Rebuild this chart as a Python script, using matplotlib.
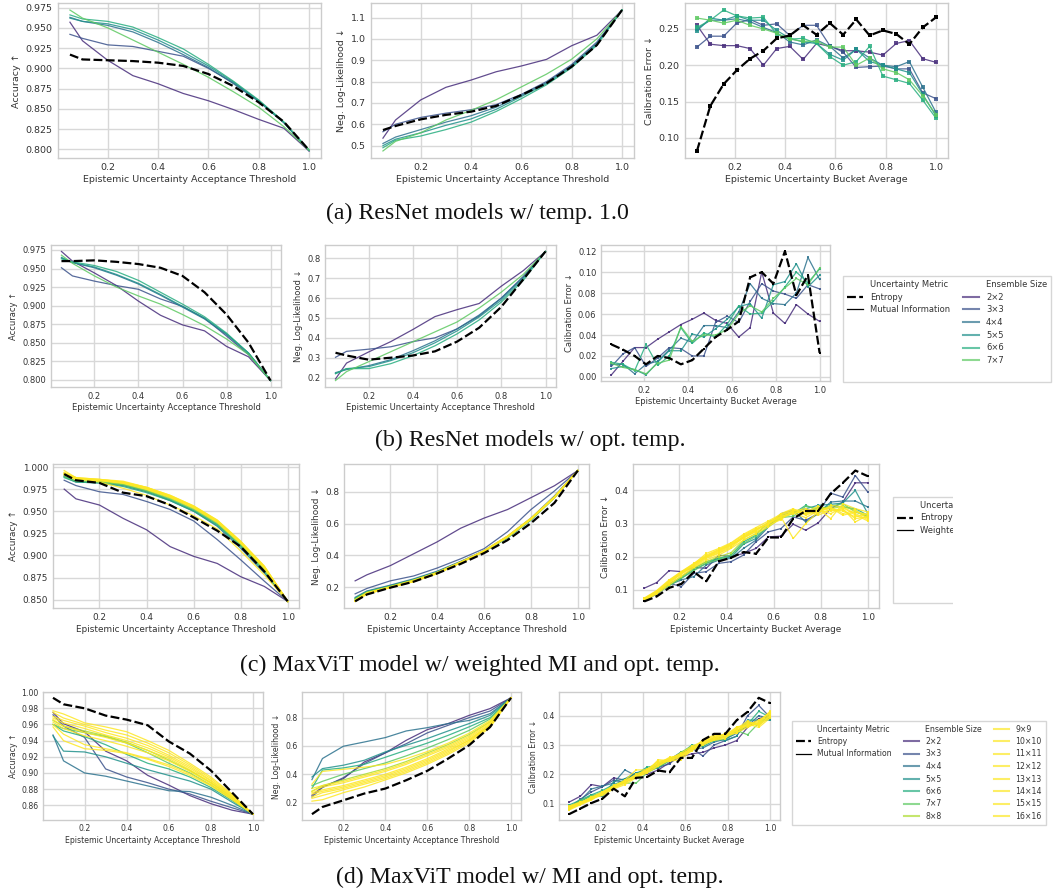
import matplotlib
matplotlib.use('Agg')
import matplotlib.pyplot as plt
from matplotlib import colormaps
from matplotlib.lines import Line2D
from matplotlib.patches import Rectangle
from matplotlib.ticker import MultipleLocator

W, H = 1053, 890

# acceptance thresholds (acc / nll curves) and bucket centres (calibration)
thresholds = [0.05, 0.1, 0.2, 0.3, 0.4, 0.5, 0.6, 0.7, 0.8, 0.9, 1.0]
buckets = [0.050, 0.103, 0.156, 0.208, 0.261, 0.314, 0.367, 0.419, 0.472, 0.525,
           0.578, 0.631, 0.683, 0.736, 0.789, 0.842, 0.894, 0.947, 1.000]

resnet_sizes = [2, 3, 4, 5, 6, 7]
maxvit_sizes = list(range(2, 17))

# ---- (a) ResNet, temperature 1.0
a_acc_ent = [0.917, 0.911, 0.910, 0.909, 0.907, 0.903, 0.893, 0.878, 0.858, 0.834, 0.799]
a_acc_mi = [
    [0.957, 0.934, 0.910, 0.891, 0.881, 0.869, 0.860, 0.849, 0.837, 0.826, 0.798],
    [0.942, 0.937, 0.929, 0.927, 0.921, 0.915, 0.900, 0.882, 0.860, 0.833, 0.798],
    [0.963, 0.958, 0.953, 0.945, 0.932, 0.917, 0.901, 0.881, 0.859, 0.833, 0.799],
    [0.962, 0.958, 0.955, 0.948, 0.935, 0.920, 0.903, 0.883, 0.860, 0.833, 0.799],
    [0.966, 0.961, 0.958, 0.951, 0.938, 0.924, 0.905, 0.884, 0.861, 0.834, 0.799],
    [0.972, 0.962, 0.950, 0.935, 0.920, 0.905, 0.889, 0.871, 0.852, 0.828, 0.799],
]
a_nll_ent = [0.573, 0.592, 0.623, 0.644, 0.659, 0.686, 0.737, 0.792, 0.870, 0.971, 1.135]
a_nll_mi = [
    [0.535, 0.620, 0.714, 0.773, 0.807, 0.846, 0.873, 0.904, 0.968, 1.017, 1.135],
    [0.565, 0.600, 0.632, 0.652, 0.668, 0.692, 0.740, 0.800, 0.880, 0.985, 1.135],
    [0.510, 0.540, 0.575, 0.610, 0.640, 0.680, 0.735, 0.795, 0.875, 0.980, 1.135],
    [0.500, 0.530, 0.560, 0.595, 0.625, 0.670, 0.730, 0.790, 0.870, 0.975, 1.135],
    [0.490, 0.525, 0.545, 0.575, 0.610, 0.660, 0.720, 0.785, 0.865, 0.970, 1.135],
    [0.475, 0.520, 0.560, 0.620, 0.665, 0.715, 0.775, 0.835, 0.905, 1.000, 1.135],
]
a_cal_ent = [0.082, 0.144, 0.174, 0.193, 0.209, 0.220, 0.237, 0.241, 0.255, 0.242,
             0.258, 0.242, 0.263, 0.241, 0.248, 0.243, 0.229, 0.252, 0.266]
a_cal_mi = [
    [0.255, 0.229, 0.227, 0.227, 0.223, 0.200, 0.223, 0.226, 0.208, 0.230, 0.226, 0.220, 0.220, 0.218, 0.214, 0.230, 0.234, 0.209, 0.204],
    [0.225, 0.240, 0.240, 0.258, 0.263, 0.255, 0.257, 0.241, 0.255, 0.255, 0.227, 0.218, 0.197, 0.198, 0.199, 0.195, 0.195, 0.162, 0.154],
    [0.250, 0.262, 0.262, 0.264, 0.260, 0.252, 0.245, 0.232, 0.228, 0.235, 0.226, 0.210, 0.222, 0.210, 0.200, 0.198, 0.205, 0.170, 0.135],
    [0.247, 0.265, 0.262, 0.268, 0.262, 0.262, 0.248, 0.237, 0.232, 0.230, 0.215, 0.207, 0.222, 0.205, 0.200, 0.195, 0.190, 0.160, 0.130],
    [0.252, 0.262, 0.276, 0.268, 0.265, 0.266, 0.243, 0.236, 0.237, 0.230, 0.212, 0.200, 0.205, 0.226, 0.185, 0.180, 0.175, 0.152, 0.127],
    [0.265, 0.262, 0.258, 0.262, 0.255, 0.250, 0.244, 0.236, 0.233, 0.233, 0.225, 0.225, 0.200, 0.210, 0.195, 0.190, 0.180, 0.158, 0.132],
]

# ---- (b) ResNet, optimal temperature
b_acc_ent = [0.960, 0.960, 0.961, 0.959, 0.956, 0.951, 0.940, 0.918, 0.888, 0.850, 0.799]
b_acc_mi = [
    [0.973, 0.960, 0.944, 0.927, 0.906, 0.887, 0.874, 0.866, 0.845, 0.831, 0.799],
    [0.951, 0.940, 0.933, 0.927, 0.922, 0.909, 0.899, 0.883, 0.859, 0.834, 0.799],
    [0.964, 0.958, 0.951, 0.941, 0.929, 0.914, 0.898, 0.882, 0.861, 0.836, 0.799],
    [0.965, 0.958, 0.952, 0.942, 0.930, 0.915, 0.899, 0.883, 0.862, 0.836, 0.799],
    [0.963, 0.959, 0.954, 0.946, 0.934, 0.918, 0.902, 0.885, 0.863, 0.836, 0.799],
    [0.968, 0.957, 0.940, 0.925, 0.913, 0.902, 0.888, 0.873, 0.855, 0.834, 0.799],
]
b_nll_ent = [0.325, 0.311, 0.290, 0.300, 0.311, 0.332, 0.381, 0.451, 0.556, 0.695, 0.835]
b_nll_mi = [
    [0.193, 0.273, 0.329, 0.381, 0.442, 0.507, 0.542, 0.573, 0.660, 0.739, 0.835],
    [0.302, 0.332, 0.343, 0.355, 0.381, 0.400, 0.445, 0.510, 0.600, 0.710, 0.835],
    [0.225, 0.240, 0.260, 0.290, 0.335, 0.385, 0.445, 0.515, 0.600, 0.705, 0.835],
    [0.220, 0.245, 0.255, 0.285, 0.325, 0.375, 0.435, 0.505, 0.590, 0.700, 0.835],
    [0.220, 0.245, 0.245, 0.270, 0.310, 0.360, 0.420, 0.490, 0.580, 0.690, 0.835],
    [0.185, 0.230, 0.280, 0.330, 0.380, 0.430, 0.480, 0.550, 0.630, 0.720, 0.835],
]
b_cal_ent = [0.031, 0.026, 0.020, 0.012, 0.020, 0.018, 0.012, 0.016, 0.027, 0.038,
             0.045, 0.053, 0.095, 0.100, 0.089, 0.120, 0.078, 0.097, 0.023]
b_cal_mi = [
    [0.002, 0.015, 0.028, 0.028, 0.036, 0.043, 0.050, 0.055, 0.061, 0.054, 0.051, 0.038, 0.047, 0.100, 0.061, 0.051, 0.069, 0.060, 0.053],
    [0.010, 0.022, 0.028, 0.010, 0.018, 0.028, 0.027, 0.020, 0.020, 0.052, 0.058, 0.052, 0.072, 0.089, 0.082, 0.079, 0.075, 0.088, 0.084],
    [0.012, 0.012, 0.003, 0.012, 0.015, 0.026, 0.037, 0.033, 0.049, 0.049, 0.047, 0.062, 0.089, 0.075, 0.070, 0.069, 0.080, 0.114, 0.093],
    [0.008, 0.010, 0.007, 0.002, 0.014, 0.025, 0.025, 0.041, 0.038, 0.046, 0.055, 0.067, 0.070, 0.056, 0.088, 0.091, 0.108, 0.086, 0.097],
    [0.014, 0.012, 0.006, 0.031, 0.011, 0.020, 0.047, 0.032, 0.042, 0.038, 0.050, 0.068, 0.060, 0.061, 0.072, 0.086, 0.100, 0.090, 0.103],
    [0.013, 0.009, 0.007, 0.003, 0.013, 0.016, 0.048, 0.034, 0.040, 0.040, 0.045, 0.060, 0.068, 0.062, 0.075, 0.085, 0.094, 0.088, 0.104],
]

# ---- (c) MaxViT, weighted MI, optimal temperature
c_acc_ent = [0.992, 0.985, 0.982, 0.971, 0.967, 0.957, 0.943, 0.928, 0.910, 0.882, 0.848]
c_acc_mi = [
    [0.975, 0.964, 0.957, 0.942, 0.929, 0.910, 0.899, 0.891, 0.876, 0.865, 0.848],
    [0.985, 0.979, 0.972, 0.969, 0.961, 0.952, 0.939, 0.918, 0.895, 0.871, 0.848],
    [0.989, 0.983, 0.982, 0.979, 0.972, 0.962, 0.950, 0.933, 0.908, 0.880, 0.848],
    [0.990, 0.984, 0.983, 0.980, 0.973, 0.963, 0.951, 0.935, 0.911, 0.882, 0.848],
    [0.988, 0.983, 0.982, 0.978, 0.971, 0.962, 0.950, 0.934, 0.910, 0.882, 0.848],
    [0.989, 0.984, 0.983, 0.980, 0.973, 0.964, 0.952, 0.936, 0.912, 0.884, 0.848],
    [0.991, 0.986, 0.984, 0.981, 0.974, 0.965, 0.953, 0.937, 0.913, 0.885, 0.848],
    [0.996, 0.988, 0.983, 0.976, 0.968, 0.957, 0.945, 0.930, 0.905, 0.878, 0.848],
    [0.992, 0.987, 0.985, 0.982, 0.975, 0.966, 0.954, 0.938, 0.914, 0.886, 0.848],
    [0.993, 0.987, 0.985, 0.982, 0.976, 0.967, 0.955, 0.939, 0.915, 0.887, 0.848],
    [0.992, 0.986, 0.985, 0.983, 0.976, 0.966, 0.955, 0.938, 0.914, 0.886, 0.848],
    [0.993, 0.988, 0.986, 0.983, 0.977, 0.968, 0.956, 0.940, 0.916, 0.888, 0.848],
    [0.991, 0.986, 0.985, 0.982, 0.975, 0.966, 0.954, 0.938, 0.914, 0.886, 0.848],
    [0.994, 0.988, 0.986, 0.984, 0.977, 0.968, 0.956, 0.940, 0.916, 0.888, 0.848],
    [0.993, 0.987, 0.986, 0.983, 0.977, 0.967, 0.955, 0.939, 0.915, 0.887, 0.848],
]
c_nll_ent = [0.110, 0.153, 0.196, 0.234, 0.286, 0.346, 0.414, 0.496, 0.603, 0.731, 0.935]
c_nll_mi = [
    [0.239, 0.277, 0.335, 0.410, 0.485, 0.571, 0.635, 0.689, 0.764, 0.839, 0.935],
    [0.157, 0.191, 0.239, 0.270, 0.320, 0.378, 0.442, 0.549, 0.689, 0.806, 0.935],
    [0.135, 0.175, 0.212, 0.252, 0.300, 0.362, 0.430, 0.520, 0.635, 0.775, 0.935],
    [0.130, 0.172, 0.208, 0.248, 0.296, 0.358, 0.425, 0.512, 0.625, 0.765, 0.935],
    [0.128, 0.170, 0.205, 0.245, 0.293, 0.356, 0.423, 0.510, 0.622, 0.762, 0.935],
    [0.125, 0.168, 0.204, 0.244, 0.292, 0.356, 0.424, 0.512, 0.625, 0.764, 0.935],
    [0.122, 0.166, 0.203, 0.244, 0.292, 0.357, 0.426, 0.515, 0.628, 0.766, 0.935],
    [0.118, 0.163, 0.202, 0.243, 0.292, 0.358, 0.430, 0.522, 0.635, 0.770, 0.935],
    [0.115, 0.162, 0.200, 0.240, 0.290, 0.356, 0.428, 0.520, 0.632, 0.768, 0.935],
    [0.112, 0.160, 0.199, 0.238, 0.288, 0.355, 0.427, 0.518, 0.630, 0.766, 0.935],
    [0.110, 0.158, 0.198, 0.236, 0.286, 0.354, 0.426, 0.517, 0.629, 0.765, 0.935],
    [0.113, 0.160, 0.199, 0.237, 0.287, 0.355, 0.428, 0.520, 0.632, 0.767, 0.935],
    [0.110, 0.157, 0.197, 0.235, 0.285, 0.353, 0.425, 0.516, 0.628, 0.764, 0.935],
    [0.112, 0.159, 0.198, 0.236, 0.286, 0.354, 0.427, 0.519, 0.631, 0.766, 0.935],
    [0.109, 0.156, 0.196, 0.234, 0.284, 0.352, 0.424, 0.515, 0.627, 0.763, 0.935],
]
c_cal_ent = [0.065, 0.080, 0.106, 0.118, 0.154, 0.126, 0.186, 0.197, 0.214, 0.209,
             0.258, 0.258, 0.315, 0.338, 0.338, 0.390, 0.423, 0.460, 0.443]
c_cal_mi = [
    [0.105, 0.122, 0.158, 0.155, 0.168, 0.165, 0.205, 0.200, 0.210, 0.225, 0.260, 0.262, 0.298, 0.280, 0.302, 0.345, 0.365, 0.423, 0.423],
    [0.075, 0.085, 0.120, 0.110, 0.150, 0.155, 0.180, 0.185, 0.205, 0.245, 0.275, 0.285, 0.320, 0.310, 0.330, 0.392, 0.380, 0.445, 0.395],
    [0.070, 0.095, 0.115, 0.130, 0.140, 0.175, 0.190, 0.195, 0.225, 0.250, 0.290, 0.330, 0.340, 0.305, 0.330, 0.365, 0.368, 0.368, 0.350],
    [0.070, 0.092, 0.118, 0.135, 0.160, 0.180, 0.195, 0.198, 0.238, 0.255, 0.295, 0.325, 0.335, 0.345, 0.355, 0.358, 0.362, 0.400, 0.330],
    [0.072, 0.090, 0.115, 0.140, 0.165, 0.185, 0.195, 0.205, 0.245, 0.265, 0.305, 0.320, 0.330, 0.355, 0.340, 0.355, 0.350, 0.345, 0.325],
    [0.068, 0.088, 0.112, 0.135, 0.158, 0.180, 0.192, 0.205, 0.240, 0.262, 0.290, 0.318, 0.322, 0.352, 0.345, 0.352, 0.360, 0.335, 0.322],
    [0.070, 0.092, 0.118, 0.140, 0.165, 0.185, 0.200, 0.212, 0.250, 0.270, 0.300, 0.315, 0.335, 0.330, 0.350, 0.345, 0.352, 0.340, 0.318],
    [0.072, 0.095, 0.125, 0.150, 0.178, 0.200, 0.215, 0.235, 0.255, 0.278, 0.305, 0.320, 0.255, 0.300, 0.335, 0.340, 0.345, 0.305, 0.325],
    [0.075, 0.098, 0.130, 0.155, 0.180, 0.205, 0.222, 0.240, 0.265, 0.285, 0.300, 0.330, 0.345, 0.325, 0.340, 0.350, 0.330, 0.340, 0.315],
    [0.070, 0.090, 0.120, 0.148, 0.170, 0.195, 0.210, 0.228, 0.258, 0.275, 0.295, 0.312, 0.340, 0.330, 0.345, 0.315, 0.360, 0.345, 0.335],
    [0.066, 0.088, 0.115, 0.142, 0.168, 0.190, 0.205, 0.225, 0.250, 0.270, 0.290, 0.318, 0.330, 0.340, 0.325, 0.342, 0.338, 0.320, 0.330],
    [0.068, 0.092, 0.122, 0.150, 0.172, 0.198, 0.212, 0.232, 0.262, 0.282, 0.300, 0.325, 0.338, 0.345, 0.330, 0.355, 0.350, 0.330, 0.312],
    [0.072, 0.094, 0.126, 0.152, 0.175, 0.202, 0.220, 0.238, 0.258, 0.280, 0.302, 0.322, 0.332, 0.318, 0.338, 0.348, 0.325, 0.335, 0.328],
    [0.074, 0.096, 0.128, 0.155, 0.178, 0.210, 0.225, 0.242, 0.268, 0.288, 0.308, 0.328, 0.342, 0.335, 0.352, 0.338, 0.342, 0.315, 0.320],
    [0.070, 0.093, 0.124, 0.150, 0.176, 0.200, 0.218, 0.236, 0.260, 0.282, 0.298, 0.320, 0.336, 0.328, 0.342, 0.330, 0.348, 0.326, 0.308],
]

# ---- (d) MaxViT, MI, optimal temperature
d_acc_ent = [0.993, 0.985, 0.980, 0.971, 0.966, 0.959, 0.939, 0.924, 0.903, 0.876, 0.849]
d_acc_mi = [
    [0.975, 0.961, 0.951, 0.927, 0.915, 0.897, 0.885, 0.872, 0.862, 0.854, 0.849],
    [0.972, 0.958, 0.944, 0.905, 0.895, 0.888, 0.880, 0.874, 0.865, 0.857, 0.849],
    [0.947, 0.915, 0.900, 0.896, 0.890, 0.884, 0.878, 0.877, 0.870, 0.860, 0.849],
    [0.946, 0.927, 0.926, 0.920, 0.912, 0.904, 0.897, 0.890, 0.880, 0.864, 0.849],
    [0.960, 0.952, 0.945, 0.935, 0.923, 0.912, 0.905, 0.895, 0.882, 0.866, 0.849],
    [0.960, 0.955, 0.950, 0.945, 0.937, 0.925, 0.912, 0.900, 0.885, 0.868, 0.849],
    [0.965, 0.958, 0.952, 0.946, 0.938, 0.928, 0.916, 0.903, 0.888, 0.870, 0.849],
    [0.977, 0.973, 0.962, 0.957, 0.951, 0.940, 0.928, 0.912, 0.895, 0.874, 0.849],
    [0.975, 0.968, 0.960, 0.953, 0.947, 0.937, 0.925, 0.910, 0.893, 0.873, 0.849],
    [0.970, 0.965, 0.958, 0.950, 0.943, 0.934, 0.922, 0.908, 0.891, 0.872, 0.849],
    [0.968, 0.962, 0.955, 0.947, 0.940, 0.931, 0.920, 0.906, 0.890, 0.871, 0.849],
    [0.966, 0.958, 0.950, 0.944, 0.937, 0.928, 0.918, 0.904, 0.888, 0.870, 0.849],
    [0.963, 0.955, 0.946, 0.940, 0.933, 0.925, 0.915, 0.902, 0.887, 0.869, 0.849],
    [0.960, 0.948, 0.935, 0.930, 0.925, 0.918, 0.910, 0.899, 0.885, 0.868, 0.849],
    [0.957, 0.940, 0.930, 0.928, 0.924, 0.917, 0.908, 0.897, 0.884, 0.867, 0.849],
]
d_nll_ent = [0.118, 0.169, 0.216, 0.264, 0.299, 0.358, 0.424, 0.511, 0.605, 0.734, 0.940]
d_nll_mi = [
    [0.252, 0.311, 0.369, 0.487, 0.551, 0.640, 0.715, 0.758, 0.816, 0.864, 0.940],
    [0.240, 0.306, 0.376, 0.475, 0.551, 0.616, 0.692, 0.746, 0.800, 0.847, 0.940],
    [0.362, 0.511, 0.598, 0.628, 0.659, 0.706, 0.729, 0.758, 0.780, 0.828, 0.940],
    [0.381, 0.440, 0.464, 0.499, 0.558, 0.605, 0.652, 0.706, 0.758, 0.816, 0.940],
    [0.300, 0.430, 0.445, 0.470, 0.520, 0.570, 0.620, 0.675, 0.735, 0.800, 0.940],
    [0.320, 0.350, 0.400, 0.440, 0.480, 0.530, 0.585, 0.645, 0.710, 0.790, 0.940],
    [0.280, 0.320, 0.360, 0.400, 0.440, 0.490, 0.550, 0.610, 0.680, 0.770, 0.940],
    [0.330, 0.420, 0.435, 0.450, 0.470, 0.510, 0.560, 0.620, 0.690, 0.780, 0.940],
    [0.300, 0.320, 0.350, 0.390, 0.430, 0.480, 0.540, 0.600, 0.670, 0.770, 0.940],
    [0.280, 0.310, 0.340, 0.380, 0.420, 0.470, 0.530, 0.590, 0.660, 0.760, 0.940],
    [0.270, 0.290, 0.320, 0.360, 0.400, 0.450, 0.510, 0.580, 0.650, 0.750, 0.940],
    [0.260, 0.280, 0.310, 0.350, 0.390, 0.440, 0.500, 0.570, 0.640, 0.750, 0.940],
    [0.240, 0.270, 0.300, 0.340, 0.380, 0.430, 0.490, 0.560, 0.640, 0.740, 0.940],
    [0.230, 0.250, 0.290, 0.330, 0.370, 0.420, 0.480, 0.550, 0.630, 0.740, 0.940],
    [0.210, 0.220, 0.270, 0.310, 0.360, 0.410, 0.470, 0.540, 0.620, 0.730, 0.940],
]
d_cal_ent = [0.064, 0.083, 0.102, 0.117, 0.151, 0.125, 0.188, 0.191, 0.213, 0.207,
             0.256, 0.256, 0.317, 0.338, 0.338, 0.384, 0.413, 0.461, 0.443]
d_cal_mi = [
    [0.105, 0.125, 0.165, 0.158, 0.188, 0.180, 0.205, 0.200, 0.215, 0.240, 0.260, 0.270, 0.275, 0.290, 0.300, 0.315, 0.360, 0.390, 0.400],
    [0.085, 0.115, 0.140, 0.158, 0.180, 0.172, 0.195, 0.210, 0.225, 0.235, 0.270, 0.290, 0.262, 0.300, 0.315, 0.330, 0.400, 0.435, 0.395],
    [0.080, 0.110, 0.150, 0.160, 0.170, 0.215, 0.195, 0.220, 0.220, 0.250, 0.275, 0.285, 0.290, 0.310, 0.320, 0.340, 0.365, 0.400, 0.390],
    [0.090, 0.105, 0.130, 0.125, 0.175, 0.185, 0.205, 0.215, 0.235, 0.250, 0.265, 0.290, 0.300, 0.325, 0.315, 0.330, 0.385, 0.385, 0.385],
    [0.095, 0.112, 0.130, 0.145, 0.165, 0.180, 0.200, 0.225, 0.230, 0.250, 0.270, 0.300, 0.295, 0.315, 0.320, 0.345, 0.370, 0.415, 0.395],
    [0.088, 0.110, 0.125, 0.140, 0.160, 0.170, 0.170, 0.205, 0.225, 0.245, 0.275, 0.295, 0.300, 0.320, 0.330, 0.350, 0.335, 0.375, 0.400],
    [0.085, 0.100, 0.120, 0.135, 0.155, 0.175, 0.190, 0.210, 0.232, 0.248, 0.270, 0.288, 0.305, 0.318, 0.328, 0.345, 0.375, 0.370, 0.395],
    [0.092, 0.105, 0.118, 0.132, 0.158, 0.180, 0.215, 0.215, 0.245, 0.250, 0.262, 0.280, 0.310, 0.325, 0.330, 0.350, 0.370, 0.380, 0.410],
    [0.080, 0.098, 0.115, 0.138, 0.160, 0.176, 0.195, 0.212, 0.238, 0.255, 0.268, 0.285, 0.315, 0.330, 0.335, 0.360, 0.365, 0.372, 0.405],
    [0.078, 0.096, 0.112, 0.135, 0.155, 0.172, 0.192, 0.208, 0.230, 0.248, 0.262, 0.292, 0.308, 0.322, 0.325, 0.355, 0.382, 0.365, 0.400],
    [0.084, 0.100, 0.122, 0.140, 0.162, 0.178, 0.198, 0.218, 0.242, 0.245, 0.250, 0.282, 0.300, 0.318, 0.328, 0.342, 0.360, 0.378, 0.415],
    [0.090, 0.104, 0.118, 0.128, 0.150, 0.165, 0.188, 0.205, 0.228, 0.252, 0.272, 0.296, 0.312, 0.326, 0.338, 0.340, 0.372, 0.360, 0.392],
    [0.086, 0.102, 0.120, 0.136, 0.156, 0.174, 0.200, 0.214, 0.236, 0.258, 0.264, 0.288, 0.304, 0.316, 0.322, 0.362, 0.368, 0.385, 0.408],
    [0.082, 0.099, 0.116, 0.132, 0.152, 0.170, 0.194, 0.210, 0.250, 0.246, 0.258, 0.284, 0.318, 0.334, 0.332, 0.348, 0.378, 0.368, 0.398],
    [0.088, 0.103, 0.121, 0.138, 0.158, 0.176, 0.190, 0.216, 0.234, 0.254, 0.266, 0.290, 0.306, 0.320, 0.340, 0.352, 0.364, 0.375, 0.412],
]

plt.rcParams.update({
    'font.family': 'DejaVu Sans',
    'axes.edgecolor': '#cccccc',
    'axes.linewidth': 1.0,
    'axes.grid': True,
    'axes.axisbelow': True,
    'grid.color': '#d8d8d8',
    'grid.linewidth': 1.0,
    'axes.labelcolor': '#333333',
    'xtick.color': '#333333',
    'ytick.color': '#333333',
    'xtick.major.size': 0,
    'ytick.major.size': 0,
})

cmap = colormaps['viridis']


def col(n):
    return cmap(min((n - 1) / 8, 1.0))


def rect(l, t, r, b):
    return [l / W, 1 - b / H, (r - l) / W, (b - t) / H]


fig = plt.figure(figsize=(W / 100, H / 100), dpi=100)

XL_ACC = 'Epistemic Uncertainty Acceptance Threshold'
XL_CAL = 'Epistemic Uncertainty Bucket Average'


def panel(box, xs, ent, mi, sizes, ylabel, xlabel, fs, ystep, ms=None):
    ax = fig.add_axes(rect(*box))
    mk = dict(marker='s', ms=ms, mew=0) if ms else {}
    for n, ys in zip(sizes, mi):
        ax.plot(xs, ys, color=col(n), lw=0.9, alpha=0.85, **mk)
    ax.plot(xs, ent, color='black', lw=1.6, dashes=(4, 1.5), **mk)
    ax.xaxis.set_major_locator(MultipleLocator(0.2))
    ax.yaxis.set_major_locator(MultipleLocator(ystep))
    ax.tick_params(labelsize=fs, pad=fs * 0.55)
    ax.set_xlabel(xlabel, fontsize=fs, labelpad=fs * 0.35)
    ax.set_ylabel(ylabel, fontsize=fs, labelpad=fs * 0.5)
    return ax


rows = [
    ([(58, 3, 321, 158), (371, 3, 634, 158), (685, 3, 948, 158)],
     (a_acc_ent, a_acc_mi), (a_nll_ent, a_nll_mi), (a_cal_ent, a_cal_mi),
     resnet_sizes, 6.8, (0.025, 0.1, 0.05), 2.2),
    ([(51, 245, 281, 387), (325, 245, 556, 387), (601, 245, 830, 381)],
     (b_acc_ent, b_acc_mi), (b_nll_ent, b_nll_mi), (b_cal_ent, b_cal_mi),
     resnet_sizes, 6.0, (0.025, 0.1, 0.02), 2.0),
    ([(53, 464, 299, 608), (344, 464, 589, 608), (633, 464, 879, 608)],
     (c_acc_ent, c_acc_mi), (c_nll_ent, c_nll_mi), (c_cal_ent, c_cal_mi),
     maxvit_sizes, 6.4, (0.025, 0.2, 0.1), 1.8),
    ([(43, 692, 263, 820), (302, 692, 521, 820), (559, 692, 780, 820)],
     (d_acc_ent, d_acc_mi), (d_nll_ent, d_nll_mi), (d_cal_ent, d_cal_mi),
     maxvit_sizes, 5.6, (0.02, 0.2, 0.1), 1.6),
]

for boxes, acc, nll, cal, sizes, fs, steps, ms in rows:
    panel(boxes[0], thresholds, acc[0], acc[1], sizes, 'Accuracy ↑', XL_ACC, fs, steps[0])
    panel(boxes[1], thresholds, nll[0], nll[1], sizes, 'Neg. Log-Likelihood ↓', XL_ACC, fs, steps[1])
    panel(boxes[2], buckets, cal[0], cal[1], sizes, 'Calibration Error ↓', XL_CAL, fs, steps[2], ms=ms)


def add_legend(left, top, fs, sizes, mi_label, colsp=1.6):
    blank = Line2D([], [], linestyle='none')
    h1 = [blank, Line2D([], [], color='black', lw=1.6, dashes=(4, 1.5)),
          Line2D([], [], color='black', lw=0.9)]
    l1 = ['Uncertainty Metric', 'Entropy', mi_label]
    while len(h1) < 8:
        h1.append(blank)
        l1.append('')
    h2, l2 = [], []
    if sizes:
        h2 = [blank] + [Line2D([], [], color=col(n), lw=1.5, alpha=0.7) for n in sizes]
        l2 = ['Ensemble Size'] + [f'{n}×{n}' for n in sizes]
        while len(h2) % 8:
            h2.append(blank)
            l2.append('')
    leg = fig.legend(h1 + h2, l1 + l2, loc='upper left',
                     bbox_to_anchor=(left / W, 1 - top / H), ncol=1 + len(h2) // 8,
                     fontsize=fs, frameon=True, borderaxespad=0, labelspacing=0.45,
                     handlelength=2.0, handletextpad=0.8, columnspacing=colsp,
                     borderpad=0.45, fancybox=False)
    leg.get_frame().set_edgecolor('#cccccc')
    leg.get_frame().set_linewidth(1.0)
    for t in leg.get_texts():
        t.set_color('#333333')
    return leg


add_legend(843, 276, 6.0, resnet_sizes, 'Mutual Information', colsp=1.5)
# (c) row: its picture is cut at the right, only the metric column shows
add_legend(893, 497, 6.0, [], 'Weighted Mutual Information')
add_legend(792, 721, 5.6, maxvit_sizes, 'Mutual Information', colsp=1.5)

fig.add_artist(Rectangle((953 / W, 1 - 650 / H), 1 - 953 / W, 195 / H,
                         transform=fig.transFigure, facecolor='white',
                         edgecolor='none', zorder=20))

captions = [
    ('(a) ResNet models w/ temp. 1.0', 477, 213),
    ('(b) ResNet models w/ opt. temp.', 530, 440),
    ('(c) MaxViT model w/ weighted MI and opt. temp.', 480, 665),
    ('(d) MaxViT model w/ MI and opt. temp.', 530, 877),
]
for text, x, y in captions:
    fig.text(x / W, 1 - y / H, text, ha='center', va='center', fontsize=17.2,
             family='Liberation Serif', color='#111111')

fig.savefig('out.png', dpi=100)
